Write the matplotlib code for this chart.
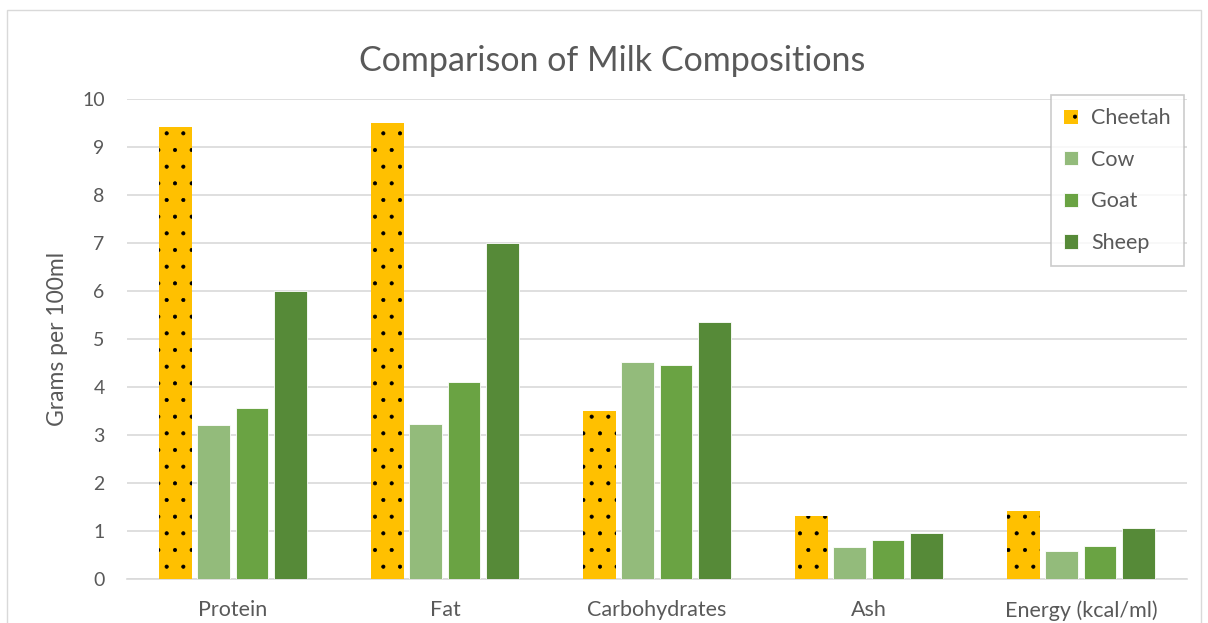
import matplotlib.pyplot as plt
import numpy as np
from matplotlib.patches import Rectangle

plt.rcParams["font.family"] = ["Lato", "DejaVu Sans"]
plt.rcParams["hatch.linewidth"] = 0.5

categories = ["Protein", "Fat", "Carbohydrates", "Ash", "Energy (kcal/ml)"]
animals = ["Cheetah", "Cow", "Goat", "Sheep"]
cheetah = [9.43, 9.51, 3.51, 1.32, 1.42]
cow = [3.21, 3.24, 4.52, 0.68, 0.60]
goat = [3.57, 4.12, 4.46, 0.82, 0.69]
sheep = [6.0, 7.0, 5.36, 0.96, 1.07]

colors = ["#FFC000", "#93BB7B", "#6AA343", "#568A38"]
text_color = "#595959"

fig = plt.figure(figsize=(12.08, 6.23), dpi=100)
ax = fig.add_axes([0.105, 0.0701, 0.8776, 0.7705])

# light frame around the whole chart
fig.patches.append(Rectangle((0.006, -0.02), 0.988, 1.004, transform=fig.transFigure,
                             fill=False, edgecolor="#D9D9D9", linewidth=1))

x = np.arange(len(categories))
width = 0.155
step = 0.18
offsets = (np.arange(4) - 1.5) * step
for i, (name, vals) in enumerate(zip(animals, [cheetah, cow, goat, sheep])):
    if name == "Cheetah":
        ax.bar(x + offsets[i], vals, width, color=colors[i], edgecolor="black",
               linewidth=0, hatch=".", label=name, zorder=3)
    else:
        ax.bar(x + offsets[i], vals, width, color=colors[i], edgecolor="white",
               linewidth=0.6, label=name, zorder=3)

ax.set_xlim(-0.5, 4.5)
ax.set_ylim(0, 10)
ax.set_yticks(range(0, 11))
ax.set_xticks(x)
ax.set_xticklabels(categories)
ax.yaxis.grid(True, color="#D9D9D9", linewidth=1.2, zorder=0)
ax.set_axisbelow(True)
for s in ["top", "right", "left"]:
    ax.spines[s].set_visible(False)
ax.spines["bottom"].set_color("#D9D9D9")
ax.spines["bottom"].set_linewidth(1.2)
ax.tick_params(axis="both", length=0, colors=text_color)
ax.tick_params(axis="x", pad=15, labelsize=15.5)
ax.tick_params(axis="y", pad=16, labelsize=14)

ax.set_ylabel("Grams per 100ml", fontsize=16.5, color=text_color, labelpad=10)
fig.text(0.507, 0.902, "Comparison of Milk Compositions", ha="center", va="center",
         fontsize=24.5, color=text_color)

leg = ax.legend(loc="upper right", bbox_to_anchor=(0.9972, 1.009), fontsize=15.5,
                frameon=True, fancybox=False, edgecolor="#BFBFBF", labelspacing=1.0,
                handlelength=0.65, handleheight=0.65, handletextpad=0.6,
                borderpad=0.62, borderaxespad=0, labelcolor=text_color)
leg.get_frame().set_linewidth(1.2)

fig.savefig("out.png", dpi=100)
